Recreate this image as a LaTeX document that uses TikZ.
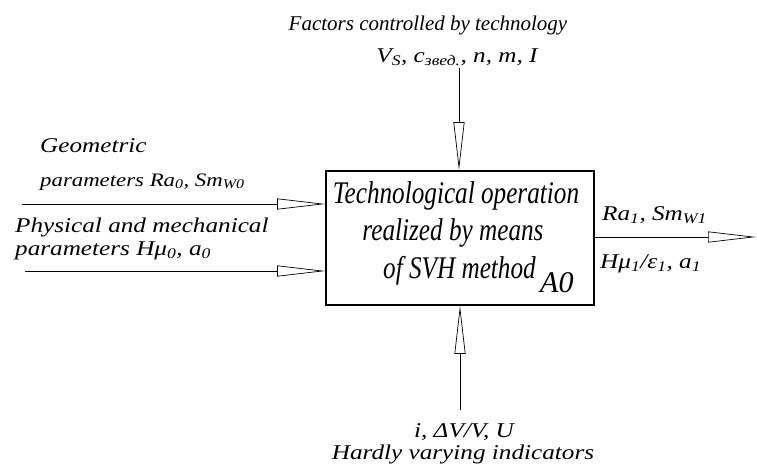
\documentclass[tikz,border=0pt]{standalone}
\usepackage{fontspec}
\setmainfont{Liberation Serif}
\newfontfamily\boxfont[FakeStretch=0.8]{Liberation Serif}
\newfontfamily\lblfont[FakeStretch=1.2]{Liberation Serif}
\usetikzlibrary{arrows.meta}

\tikzset{
  flow/.style={draw, line width=0.7pt, -{Triangle[open, length=48pt, width=11pt, line width=0.7pt]}},
  lbl/.style={font=\lblfont\fontsize{21}{25}\selectfont\itshape, inner sep=0pt, anchor=base},
  oplbl/.style={font=\boxfont\fontsize{31.5}{36}\selectfont\itshape, inner sep=0pt, anchor=base},
}

\begin{document}
\begin{tikzpicture}[x=1pt, y=-1pt]
  \useasboundingbox (0,0) rectangle (757,463);
  % Nodes
  \node[draw, line width=1.6pt, minimum width=268pt, minimum height=134pt, inner sep=0pt] (op) at (460,238) {};
  \node[oplbl] (op1) at (456,203) {Technological operation};
  \node[oplbl] (op2) at (453,240) {realized by means};
  \node[oplbl, anchor=base east] (op3) at (536,278) {of SVH method};
  \node[oplbl, anchor=base west, font=\fontsize{30}{34}\selectfont\itshape] (a0) at (540,292) {A0};
  \node[lbl, font=\fontsize{21}{25}\selectfont\itshape] (ctrl) at (428,30) {Factors controlled by technology};
  \node[lbl] (ctrlv) at (457,62) {V\textsubscript{S}, c\textsubscript{звед.}, n, m, I};
  \node[lbl, anchor=base west] (geo1) at (40,152) {Geometric};
  \node[lbl, anchor=base west, font=\lblfont\fontsize{19}{23}\selectfont\itshape] (geo2) at (40,186) {parameters Ra\textsubscript{0}, Sm\textsubscript{W0}};
  \node[lbl, anchor=base west] (phys1) at (15,232) {Physical and mechanical};
  \node[lbl, anchor=base west] (phys2) at (15,255) {parameters Hμ\textsubscript{0}, a\textsubscript{0}};
  \node[lbl, anchor=base west] (out1) at (602,220) {Ra\textsubscript{1}, Sm\textsubscript{W1}};
  \node[lbl, anchor=base west] (out2) at (600,268) {Hμ\textsubscript{1}/ε\textsubscript{1}, a\textsubscript{1}};
  \node[lbl] (mech) at (464,437) {i, ΔV/V, U};
  \node[lbl] (mechd) at (463,459) {Hardly varying indicators};
  \coordinate (geoin) at (22,204);
  \coordinate (physin) at (25,271);
  \coordinate (outend) at (756,237);
  \coordinate (ctrlin) at (459,68);
  \coordinate (mechin) at (460,410);
  % Edges
  \draw[flow] (ctrlin) -- (ctrlin |- op.north);
  \draw[flow] (mechin) -- (mechin |- op.south);
  \draw[flow] (geoin) -- (op.west |- geoin);
  \draw[flow] (physin) -- (op.west |- physin);
  \draw[flow] (op.east |- outend) -- (outend);
\end{tikzpicture}
\end{document}
